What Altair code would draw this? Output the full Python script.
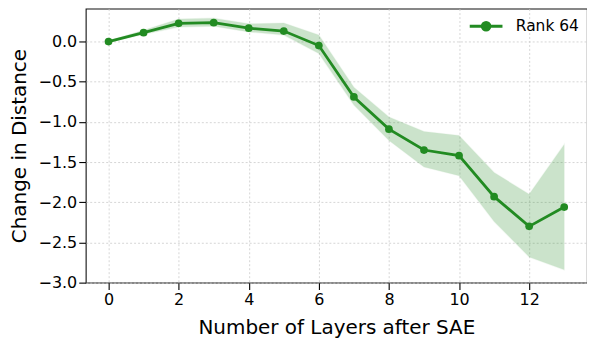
import altair as alt
import pandas as pd

layers = [0, 1, 2, 3, 4, 5, 6, 7, 8, 9, 10, 11, 12, 13]
mean_change = [0.0, 0.11, 0.227, 0.235, 0.166, 0.13, -0.05, -0.69, -1.09, -1.35, -1.42, -1.93, -2.30, -2.06]
upper = [0.01, 0.14, 0.28, 0.29, 0.22, 0.23, 0.08, -0.57, -0.94, -1.12, -1.17, -1.63, -1.90, -1.28]
lower = [-0.01, 0.09, 0.18, 0.19, 0.12, 0.08, -0.15, -0.79, -1.23, -1.56, -1.67, -2.24, -2.68, -2.84]
series = ["Rank 64"] * len(layers)

df = pd.DataFrame({"layer": layers, "mean": mean_change, "upper": upper,
                   "lower": lower, "series": series})

GREEN = "#228B22"
FONT = "DejaVu Sans"

x = alt.X("layer:Q", scale=alt.Scale(domain=[-0.65, 13.65], nice=False, zero=False),
          axis=alt.Axis(values=[0, 2, 4, 6, 8, 10, 12], title="Number of Layers after SAE",
                        format="d"))
y_scale = alt.Scale(domain=[-3.0, 0.41], nice=False, zero=False)

band = alt.Chart(df).mark_area(color=GREEN, opacity=0.23, stroke=GREEN, strokeOpacity=0.25,
                               strokeWidth=1.2).encode(
    x=x,
    y=alt.Y("lower:Q", scale=y_scale,
            axis=alt.Axis(values=[0.0, -0.5, -1.0, -1.5, -2.0, -2.5, -3.0],
                          format=".1f", title="Change in Distance")),
    y2="upper:Q",
)

legend_symbol = "M-3,0H3M-0.72,0A0.72,0.72 0 1,1 0.72,0A0.72,0.72 0 1,1 -0.72,0Z"

line = alt.Chart(df).mark_line(strokeWidth=2.8, point=alt.OverlayMarkDef(size=60, filled=True, opacity=1)).encode(
    x=x,
    y=alt.Y("mean:Q", scale=y_scale),
    color=alt.Color("series:N", scale=alt.Scale(range=[GREEN]),
                    legend=alt.Legend(title=None, orient="none", legendX=394, legendY=10,
                                      symbolType=legend_symbol, symbolSize=120,
                                      symbolStrokeWidth=2.8, symbolFillColor=GREEN,
                                      labelFontSize=15.5, labelFont=FONT, labelColor="#000",
                                      labelOffset=22)),
)

chart = (band + line).properties(
    width=503, height=275,
    autosize=alt.AutoSizeParams(type="none"),
    padding={"left": 78, "top": 0, "right": 0, "bottom": 60},
).configure_view(
    stroke="#111", strokeWidth=1.1
).configure_axis(
    grid=True, gridColor="#cccccc", gridDash=[2, 2], gridWidth=0.8,
    domain=False,
    tickColor="#000", tickSize=7, tickWidth=1.1,
    labelFont=FONT, labelFontSize=16, labelColor="#000", labelPadding=2,
    titleFont=FONT, titleFontSize=20, titleFontWeight="normal", titleColor="#000",
).configure_axisY(
    titlePadding=9,
).configure_axisX(
    titlePadding=10,
)

chart.save("out.html", embed_options={"renderer": "svg", "actions": False})
